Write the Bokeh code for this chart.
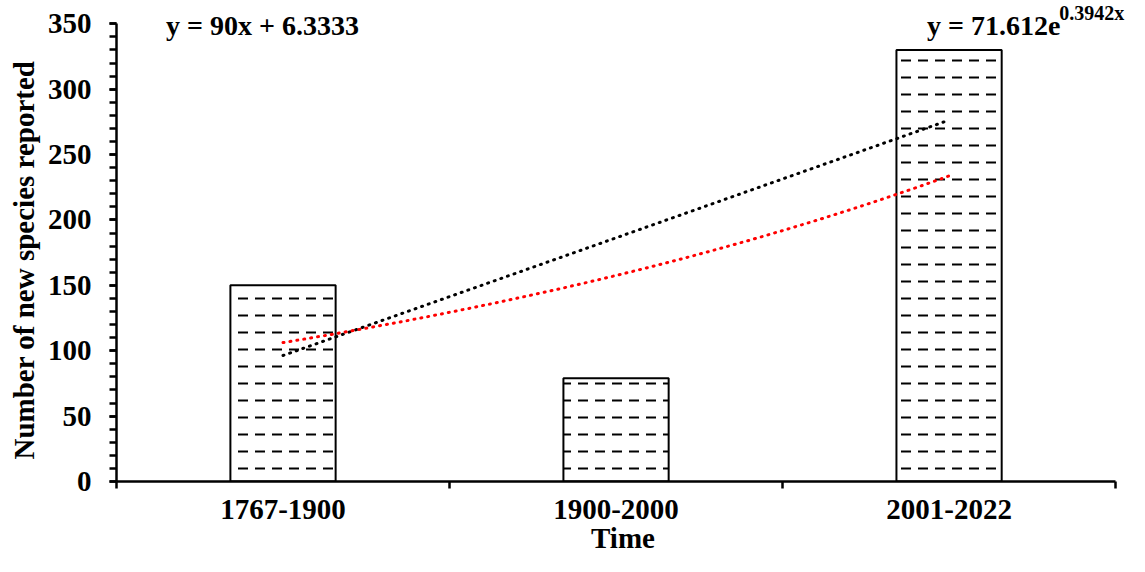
import numpy as np
from bokeh.plotting import figure
from bokeh.models import (FixedTicker, SingleIntervalTicker, Label, ColumnDataSource, Range1d, Title)
from bokeh.embed import file_html
from bokeh.resources import INLINE

# ---- data ----
categories = ["1767-1900", "1900-2000", "2001-2022"]
positions = [1, 2, 3]
species = [150, 79, 330]
lin_slope, lin_intercept = 90, 6.3333
exp_a, exp_b = 71.612, 0.3942
lin_label = "y = 90x + 6.3333"
exp_label_main = "y = 71.612e"
exp_label_sup = "0.3942x"
x_title = "Time"
y_title = "Number of new species reported"

FONT = "Liberation Serif"

p = figure(width=1129, height=556, output_backend="svg", toolbar_location=None,
           x_range=Range1d(0.5, 3.5418), y_range=Range1d(0, 367.8),
           min_border_left=109, min_border_right=0, min_border_top=0, min_border_bottom=0)
p.outline_line_color = None
p.xgrid.visible = False
p.ygrid.visible = False
p.background_fill_color = "white"
p.border_fill_color = "white"

src = ColumnDataSource(dict(x=positions, top=species))
p.vbar(x="x", top="top", width=0.316, bottom=0, source=src,
       fill_color="white", line_color="black", line_width=2,
       hatch_pattern="horizontal_dash", hatch_color="black",
       hatch_scale=17, hatch_weight=2)

xs = np.linspace(positions[0], positions[-1], 60)
p.line(xs, lin_slope * xs + lin_intercept, line_color="black", line_width=3,
       line_dash="1 6", line_cap="round")
p.line(xs, exp_a * np.exp(exp_b * xs), line_color="red", line_width=3,
       line_dash="1 6", line_cap="round")

# x axis
xa = p.xaxis[0]
xa.bounds = (0.5, 3.5)
xa.ticker = FixedTicker(ticks=positions, minor_ticks=[0.5, 1.5, 2.5, 3.5])
xa.major_label_overrides = {pos: c for pos, c in zip(positions, categories)}
xa.major_tick_out = 0
xa.major_tick_in = 0
xa.minor_tick_out = 7
xa.minor_tick_in = 0
xa.minor_tick_line_width = 2.5
xa.minor_tick_line_color = "black"
xa.axis_line_width = 2.5
xa.axis_line_color = "black"
xa.major_label_standoff = 11
xa.axis_label = x_title
xa.axis_label_standoff = 0

ya = p.yaxis[0]
ya.bounds = (0, 350)
ya.ticker = SingleIntervalTicker(interval=50, num_minor_ticks=5)
ya.major_tick_out = 7
ya.major_tick_in = 0
ya.minor_tick_out = 7
ya.minor_tick_in = 0
ya.major_tick_line_width = 2.5
ya.minor_tick_line_width = 2.5
ya.axis_line_width = 2.5
ya.axis_line_color = "black"
ya.major_label_standoff = 18

for ax in (xa, ya):
    ax.major_label_text_font = FONT
    ax.major_label_text_font_style = "bold"
    ax.major_label_text_font_size = "29px"
    ax.major_label_text_color = "black"
    ax.axis_label_text_font = FONT
    ax.axis_label_text_font_style = "bold"
    ax.axis_label_text_font_size = "29px"
    ax.axis_label_text_color = "black"

p.add_layout(Title(text=y_title, align="left", offset=22, standoff=10,
                   text_font=FONT, text_font_style="bold", text_font_size="29px",
                   text_color="black"), "left")

p.add_layout(Label(x=0.649, y=349.0, text=lin_label, text_font=FONT, text_font_style="bold",
                   text_font_size="28px", text_color="black", text_baseline="alphabetic"))
p.add_layout(Label(x=2.934, y=349.0, text=exp_label_main, text_font=FONT, text_font_style="bold",
                   text_font_size="28px", text_color="black", text_baseline="alphabetic"))
p.add_layout(Label(x=3.331, y=358.0, text=exp_label_sup, text_font=FONT, text_font_style="bold",
                   text_font_size="20px", text_color="black", text_baseline="alphabetic"))

open("out.html", "w").write(file_html(p, INLINE))
